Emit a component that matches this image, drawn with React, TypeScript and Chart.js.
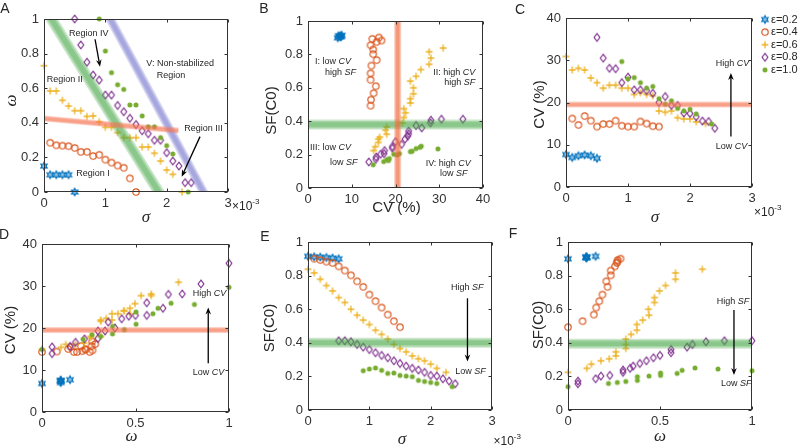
import React, { useEffect, useRef } from "react";
import { Chart, registerables } from "chart.js";

Chart.register(...registerables);

// ---------------- data (σ values in units of 10^-3) ----------------
const sigma02 = [0, 0.1, 0.2, 0.3, 0.4, 0.5];
const omega02 = [0.15, 0.1, 0.1, 0.1, 0.1, 0];
const cv02 = [7.7, 7.0, 7.4, 7.6, 7.4, 6.8];
const sf02 = [0.915, 0.912, 0.91, 0.908, 0.905, 0.9];

const sigma04 = [0.1, 0.2, 0.3, 0.4, 0.5, 0.6, 0.7, 0.8, 0.9, 1.0, 1.1, 1.2, 1.3, 1.4, 1.5];
const omega04 = [0.285, 0.27, 0.268, 0.265, 0.255, 0.232, 0.232, 0.208, 0.215, 0.187, 0.17, 0.153, 0.14, 0.079, 0];
const cv04 = [16.2, 14.7, 16.8, 15.7, 14.3, 14.9, 14.9, 15.7, 14.5, 14.3, 14.3, 15.5, 15.0, 14.4, 14.3];
const sf04 = [0.901, 0.893, 0.883, 0.875, 0.855, 0.83, 0.802, 0.766, 0.733, 0.687, 0.648, 0.61, 0.568, 0.529, 0.493];

const sigma06 = [0, 0.1, 0.2, 0.3, 0.4, 0.5, 0.6, 0.7, 0.8, 0.9, 1.0, 1.1, 1.2, 1.3, 1.4, 1.5, 1.6, 1.7, 1.8, 1.9, 2.0, 2.1, 2.25];
const omega06 = [0.73, 0.584, 0.584, 0.53, 0.497, 0.47, 0.47, 0.437, 0.44, 0.406, 0.374, 0.374, 0.343, 0.314, 0.314, 0.314, 0.26, 0.26, 0.224, 0.179, 0.127, 0.102, 0];
const cv06 = [30.9, 27.7, 28.1, 27.7, 25.8, 24.7, 23.4, 24.1, 24.1, 23.4, 23.4, 21.9, 22.3, 21.9, 21.6, 18.0, 17.7, 18.0, 16.4, 16.1, 16.1, 15.4, 15.0];
const sf06 = [0.838, 0.816, 0.778, 0.741, 0.709, 0.669, 0.64, 0.6, 0.564, 0.535, 0.509, 0.475, 0.45, 0.422, 0.39, 0.366, 0.346, 0.322, 0.305, 0.293, 0.273, 0.248, 0.224];

const sigma08 = [0.5, 0.6, 0.7, 0.8, 0.9, 1.0, 1.1, 1.2, 1.3, 1.4, 1.5, 1.6, 1.7, 1.8, 1.9, 2.0, 2.1, 2.2, 2.3, 2.4];
const omega08 = [1.0, 0.85, 0.75, 0.676, 0.647, 0.56, 0.56, 0.5, 0.464, 0.426, 0.39, 0.354, 0.337, 0.299, 0.299, 0.227, 0.179, 0.15, 0.054, 0.054];
const cv08 = [35.4, 30.5, 28.1, 28.0, 24.7, 26.0, 23.0, 23.0, 22.8, 22.2, 20.0, 21.4, 19.3, 19.3, 17.5, 17.4, 16.6, 15.6, 15.5, 13.9];
const sf08 = [0.412, 0.412, 0.406, 0.39, 0.374, 0.36, 0.341, 0.325, 0.311, 0.293, 0.277, 0.261, 0.248, 0.238, 0.224, 0.206, 0.202, 0.186, 0.172, 0.156];

const sigma10 = [0.9, 1.0, 1.1, 1.2, 1.3, 1.4, 1.5, 1.6, 1.7, 1.8, 1.9, 2.0, 2.1, 2.35];
const omega10 = [1.0, 0.815, 0.69, 0.62, 0.593, 0.503, 0.503, 0.44, 0.377, 0.377, 0.314, 0.268, 0.22, 0];
const cv10 = [29.7, 25.6, 25.9, 24.7, 23.4, 23.8, 20.9, 19.6, 20.4, 18.6, 18.0, 18.4, 17.3, 14.9];
const sf10 = [0.234, 0.244, 0.25, 0.236, 0.218, 0.22, 0.206, 0.202, 0.198, 0.176, 0.17, 0.164, 0.158, 0.139];

const seriesLabels = ["ε=0.2", "ε=0.4", "ε=0.6", "ε=0.8", "ε=1.0"];
const seriesColors = ["#0072BD", "#D95319", "#EDB120", "#7E2F8E", "#77AC30"];
const seriesMarkers = ["hexagram", "circle", "plus", "diamond", "dot"];

const seriesDefs = [
  { sigma: sigma02, omega: omega02, cv: cv02, sf: sf02 },
  { sigma: sigma04, omega: omega04, cv: cv04, sf: sf04 },
  { sigma: sigma06, omega: omega06, cv: cv06, sf: sf06 },
  { sigma: sigma08, omega: omega08, cv: cv08, sf: sf08 },
  { sigma: sigma10, omega: omega10, cv: cv10, sf: sf10 },
];

// ---------------- styling helpers ----------------
const SANS = '"Liberation Sans", Arial, Helvetica, sans-serif';
const SERIF = '"Liberation Serif", "DejaVu Serif", serif';
const INK = "#262626";
const TICK_INK = "#333";

type Key = "sigma" | "omega" | "cv" | "sf";
type Seg = [string, boolean];
type TextItem = { x: number; y: number; segs: Seg[]; align?: "left" | "center" | "right" };
type Band = { p1: [number, number]; p2: [number, number]; w: number; rgb: string; a?: number };
type Arrow = { from: [number, number]; to: [number, number] };
type PanelCfg = {
  box: [number, number, number, number];
  area: [number, number, number, number];
  xKey: Key;
  yKey: Key;
  xr: [number, number, number];
  yr: [number, number, number];
  xTitle: Seg;
  yTitle: Seg;
  xTitleOff: [number, number];
  yTitleOff: [number, number];
  exp?: [number, number];
  bands: Band[];
  texts: TextItem[];
  arrows: Arrow[];
  legend?: boolean;
};

function makeMarker(kind: string, color: string): HTMLCanvasElement {
  const s = 12;
  const c = document.createElement("canvas");
  c.width = s;
  c.height = s;
  const g = c.getContext("2d")!;
  const m = s / 2;
  g.strokeStyle = color;
  g.fillStyle = color;
  g.lineWidth = 1.15;
  g.beginPath();
  if (kind === "circle") {
    g.arc(m, m, 3.2, 0, Math.PI * 2);
    g.stroke();
  } else if (kind === "dot") {
    g.arc(m, m, 2.5, 0, Math.PI * 2);
    g.fill();
  } else if (kind === "plus") {
    g.lineWidth = 1.3;
    g.moveTo(m - 3.4, m);
    g.lineTo(m + 3.4, m);
    g.moveTo(m, m - 3.4);
    g.lineTo(m, m + 3.4);
    g.stroke();
  } else if (kind === "diamond") {
    g.moveTo(m, m - 3.9);
    g.lineTo(m + 2.9, m);
    g.lineTo(m, m + 3.9);
    g.lineTo(m - 2.9, m);
    g.closePath();
    g.stroke();
  } else {
    for (let i = 0; i < 12; i++) {
      const r = i % 2 === 0 ? 3.7 : 2.0;
      const a = -Math.PI / 2 + (i * Math.PI) / 6;
      const px = m + r * Math.cos(a);
      const py = m + r * Math.sin(a);
      if (i === 0) g.moveTo(px, py);
      else g.lineTo(px, py);
    }
    g.closePath();
    g.globalAlpha = 0.45;
    g.fill();
    g.globalAlpha = 1;
    g.stroke();
  }
  return c;
}

function fontFor(size: number, italic: boolean, serif = false) {
  return `${italic ? "italic " : ""}${size}px ${serif ? SERIF : SANS}`;
}

function rich(ctx: CanvasRenderingContext2D, segs: Seg[], x: number, y: number, size: number, align: string) {
  ctx.save();
  ctx.fillStyle = INK;
  ctx.textBaseline = "middle";
  ctx.textAlign = "left";
  const ws = segs.map(([t, it]) => {
    ctx.font = fontFor(size, it);
    return ctx.measureText(t).width;
  });
  const total = ws.reduce((a, b) => a + b, 0);
  let cx = align === "left" ? x : align === "center" ? x - total / 2 : x - total;
  segs.forEach(([t, it], i) => {
    ctx.font = fontFor(size, it);
    ctx.fillText(t, cx, y);
    cx += ws[i];
  });
  ctx.restore();
}

function drawTitle(ctx: CanvasRenderingContext2D, seg: Seg, x: number, y: number) {
  ctx.save();
  ctx.fillStyle = INK;
  ctx.textAlign = "center";
  ctx.textBaseline = "middle";
  ctx.font = seg[1] ? fontFor(17, true, true) : fontFor(15, false);
  ctx.fillText(seg[0], x, y);
  ctx.restore();
}

function drawArrow(ctx: CanvasRenderingContext2D, x1: number, y1: number, x2: number, y2: number) {
  const ang = Math.atan2(y2 - y1, x2 - x1);
  const hl = 7;
  const hw = 2.8;
  const c = Math.cos(ang);
  const s = Math.sin(ang);
  ctx.save();
  ctx.strokeStyle = "#000";
  ctx.fillStyle = "#000";
  ctx.lineWidth = 1.3;
  ctx.beginPath();
  ctx.moveTo(x1, y1);
  ctx.lineTo(x2 - hl * 0.7 * c, y2 - hl * 0.7 * s);
  ctx.stroke();
  ctx.beginPath();
  ctx.moveTo(x2, y2);
  ctx.lineTo(x2 - hl * c + hw * s, y2 - hl * s - hw * c);
  ctx.lineTo(x2 - hl * 0.7 * c, y2 - hl * 0.7 * s);
  ctx.lineTo(x2 - hl * c - hw * s, y2 - hl * s + hw * c);
  ctx.closePath();
  ctx.fill();
  ctx.restore();
}

function makeAnnot(cfg: PanelCfg, markers: HTMLCanvasElement[]) {
  return {
    id: "annot",
    afterDatasetsDraw(chart: any) {
      const ctx: CanvasRenderingContext2D = chart.ctx;
      const xs = chart.scales.x;
      const ys = chart.scales.y;
      const ca = chart.chartArea;
      const X = (v: number) => xs.getPixelForValue(v);
      const Y = (v: number) => ys.getPixelForValue(v);

      // soft bands
      ctx.save();
      ctx.beginPath();
      ctx.rect(ca.left, ca.top, ca.right - ca.left, ca.bottom - ca.top);
      ctx.clip();
      for (const b of cfg.bands) {
        const x1 = X(b.p1[0]);
        const y1 = Y(b.p1[1]);
        const x2 = X(b.p2[0]);
        const y2 = Y(b.p2[1]);
        for (const f of [1, 0.72, 0.45]) {
          ctx.strokeStyle = `rgba(${b.rgb},${b.a ?? 0.28})`;
          ctx.lineWidth = b.w * f;
          ctx.lineCap = "butt";
          ctx.beginPath();
          ctx.moveTo(x1, y1);
          ctx.lineTo(x2, y2);
          ctx.stroke();
        }
      }
      ctx.restore();

      // box with inward ticks
      ctx.save();
      ctx.strokeStyle = "#333";
      ctx.lineWidth = 1;
      const l = Math.round(ca.left) + 0.5;
      const r = Math.round(ca.right) - 0.5;
      const t = Math.round(ca.top) + 0.5;
      const bt = Math.round(ca.bottom) - 0.5;
      ctx.strokeRect(l, t, r - l, bt - t);
      ctx.beginPath();
      for (const tk of xs.ticks) {
        const x = Math.round(X(tk.value)) + 0.5;
        ctx.moveTo(x, bt);
        ctx.lineTo(x, bt - 3);
        ctx.moveTo(x, t);
        ctx.lineTo(x, t + 3);
      }
      for (const tk of ys.ticks) {
        const y = Math.round(Y(tk.value)) + 0.5;
        ctx.moveTo(l, y);
        ctx.lineTo(l + 3, y);
        ctx.moveTo(r, y);
        ctx.lineTo(r - 3, y);
      }
      ctx.stroke();
      ctx.restore();

      // annotation texts and arrows
      for (const tx of cfg.texts) rich(ctx, tx.segs, X(tx.x), Y(tx.y), 9, tx.align ?? "left");
      for (const a of cfg.arrows) drawArrow(ctx, X(a.from[0]), Y(a.from[1]), X(a.to[0]), Y(a.to[1]));

      // axis titles
      drawTitle(ctx, cfg.xTitle, (ca.left + ca.right) / 2 + cfg.xTitleOff[0], ca.bottom + cfg.xTitleOff[1]);
      ctx.save();
      ctx.translate(ca.left + cfg.yTitleOff[0], (ca.top + ca.bottom) / 2 + cfg.yTitleOff[1]);
      ctx.rotate(-Math.PI / 2);
      drawTitle(ctx, cfg.yTitle, 0, 0);
      ctx.restore();

      // ×10^-3 exponent label
      if (cfg.exp) {
        ctx.save();
        ctx.fillStyle = INK;
        ctx.textBaseline = "middle";
        ctx.textAlign = "left";
        ctx.font = fontFor(12, false);
        const ex = ca.right + cfg.exp[0];
        const ey = ca.bottom + cfg.exp[1];
        ctx.fillText("×10", ex, ey);
        const w = ctx.measureText("×10").width;
        ctx.font = fontFor(8, false);
        ctx.fillText("-3", ex + w, ey - 5);
        ctx.restore();
      }

      // legend
      if (cfg.legend) {
        const bx = cfg.box[0];
        const by = cfg.box[1];
        ctx.save();
        ctx.fillStyle = INK;
        ctx.textBaseline = "middle";
        ctx.textAlign = "left";
        ctx.font = fontFor(11, false);
        seriesLabels.forEach((lab, i) => {
          const cy = 19.5 + i * 12.6 - by;
          const mk = markers[i];
          ctx.drawImage(mk, 765 - bx - mk.width / 2, cy - mk.height / 2);
          ctx.fillText(lab, 771 - bx, cy);
        });
        ctx.restore();
      }
    },
  };
}

function fmt(v: number) {
  return String(Math.round(v * 100) / 100);
}

function Panel({ cfg }: { cfg: PanelCfg }) {
  const ref = useRef<HTMLCanvasElement>(null);
  const [bx, by, bw, bh] = cfg.box;
  useEffect(() => {
    const canvas = ref.current!;
    const [ax, ay, aw, ah] = cfg.area;
    const padL = ax - bx;
    const padT = ay - by;
    const padR = bx + bw - (ax + aw);
    const padB = by + bh - (ay + ah);
    const markers = seriesColors.map((c, i) => makeMarker(seriesMarkers[i], c));
    const datasets = seriesDefs.map((s, i) => ({
      label: seriesLabels[i],
      data: (s as any)[cfg.xKey].map((v: number, j: number) => ({ x: v, y: (s as any)[cfg.yKey][j] })),
      pointStyle: markers[i],
      pointRadius: 3,
      pointHoverRadius: 3,
      showLine: false,
      clip: false,
      order: seriesDefs.length - i,
    }));
    const tickFont = { family: SANS, size: 13 };
    const chart = new Chart(canvas, {
      type: "scatter",
      data: { datasets: datasets as any },
      options: {
        responsive: false,
        animation: false,
        devicePixelRatio: 1,
        events: [],
        layout: { padding: { left: 0, top: padT, right: padR, bottom: 0 } },
        plugins: { legend: { display: false }, tooltip: { enabled: false } },
        scales: {
          x: {
            type: "linear",
            min: cfg.xr[0],
            max: cfg.xr[1],
            ticks: { stepSize: cfg.xr[2], autoSkip: false, maxRotation: 0, padding: 4, font: tickFont, color: TICK_INK, callback: (v: any) => fmt(Number(v)) },
            grid: { display: false, drawTicks: false },
            border: { display: false },
            afterFit: (s: any) => {
              s.height = padB;
            },
          },
          y: {
            type: "linear",
            min: cfg.yr[0],
            max: cfg.yr[1],
            ticks: { stepSize: cfg.yr[2], autoSkip: false, padding: 5, font: tickFont, color: TICK_INK, callback: (v: any) => fmt(Number(v)) },
            grid: { display: false, drawTicks: false },
            border: { display: false },
            afterFit: (s: any) => {
              s.width = padL;
            },
          },
        },
      } as any,
      plugins: [makeAnnot(cfg, markers) as any],
    });
    return () => chart.destroy();
  }, [cfg]);
  return (
    <canvas
      ref={ref}
      width={bw}
      height={bh}
      style={{ position: "absolute", left: bx, top: by, width: bw, height: bh }}
    />
  );
}

// ---------------- panel definitions ----------------
const GREEN = "70,165,70";
const BLUE = "115,115,205";
const ORANGE = "245,115,80";

const panels: PanelCfg[] = [
  {
    box: [0, 0, 260, 225],
    area: [44, 19, 184, 173],
    xKey: "sigma",
    yKey: "omega",
    xr: [0, 3, 1],
    yr: [0, 1, 0.2],
    xTitle: ["σ", true],
    yTitle: ["ω", true],
    xTitleOff: [10, 26],
    yTitleOff: [-32, -5],
    exp: [4, 15],
    bands: [
      { p1: [-0.055, 1.1], p2: [2.045, -0.1], w: 11, rgb: GREEN },
      { p1: [0.928, 1.1], p2: [2.752, -0.1], w: 9, rgb: BLUE },
      { p1: [-0.2, 0.431], p2: [2.19, 0.355], w: 6, rgb: ORANGE, a: 0.32 },
    ],
    texts: [
      { x: 0.73, y: 0.917, segs: [["Region IV", false]], align: "center" },
      { x: 2.22, y: 0.744, segs: [["V: Non-stabilized", false]], align: "center" },
      { x: 2.07, y: 0.675, segs: [["Region", false]], align: "center" },
      { x: 0.338, y: 0.649, segs: [["Region II", false]], align: "center" },
      { x: 2.6, y: 0.368, segs: [["Region III", false]], align: "center" },
      { x: 0.8, y: 0.104, segs: [["Region I", false]], align: "center" },
    ],
    arrows: [
      { from: [0.832, 0.883], to: [0.913, 0.724] },
      { from: [2.544, 0.32], to: [2.245, 0.088] },
    ],
  },
  {
    box: [262, 0, 268, 225],
    area: [308, 21, 175, 167],
    xKey: "cv",
    yKey: "sf",
    xr: [0, 40, 10],
    yr: [0, 1, 0.2],
    xTitle: ["CV (%)", false],
    yTitle: ["SF(C0)", false],
    xTitleOff: [1, 20],
    yTitleOff: [-36, 6],
    bands: [
      { p1: [0, 0.38], p2: [40, 0.38], w: 10, rgb: GREEN },
      { p1: [20.5, 0], p2: [20.5, 1], w: 7, rgb: "240,105,60", a: 0.33 },
    ],
    texts: [
      { x: 1.6, y: 0.756, segs: [["I: low ", false], ["CV", true]] },
      { x: 3.89, y: 0.693, segs: [["high ", false], ["SF", true]] },
      { x: 28.64, y: 0.693, segs: [["II: high ", false], ["CV", true]] },
      { x: 31.15, y: 0.629, segs: [["high ", false], ["SF", true]] },
      { x: 0.46, y: 0.245, segs: [["III: low ", false], ["CV", true]] },
      { x: 5.03, y: 0.151, segs: [["low ", false], ["SF", true]] },
      { x: 26.9, y: 0.148, segs: [["IV: high ", false], ["CV", true]] },
      { x: 30.17, y: 0.084, segs: [["low ", false], ["SF", true]] },
    ],
    arrows: [],
  },
  {
    box: [532, 0, 268, 225],
    area: [566, 18, 186, 169],
    xKey: "sigma",
    yKey: "cv",
    xr: [0, 3, 1],
    yr: [0, 40, 10],
    xTitle: ["σ", true],
    yTitle: ["CV (%)", false],
    xTitleOff: [-4, 31],
    yTitleOff: [-26, 2],
    exp: [2, 26],
    bands: [{ p1: [0, 19.5], p2: [3, 19.5], w: 6, rgb: ORANGE, a: 0.32 }],
    texts: [
      { x: 2.415, y: 29.2, segs: [["High ", false], ["CV", true]] },
      { x: 2.415, y: 9.57, segs: [["Low ", false], ["CV", true]] },
    ],
    arrows: [{ from: [2.66, 11.95], to: [2.66, 27.0] }],
    legend: true,
  },
  {
    box: [0, 225, 260, 223],
    area: [42, 244, 187, 168],
    xKey: "omega",
    yKey: "cv",
    xr: [0, 1, 0.5],
    yr: [0, 40, 10],
    xTitle: ["ω", true],
    yTitle: ["CV (%)", false],
    xTitleOff: [-4, 25],
    yTitleOff: [-31, 2],
    bands: [{ p1: [0, 19.5], p2: [1, 19.5], w: 6, rgb: ORANGE, a: 0.32 }],
    texts: [
      { x: 0.806, y: 28.1, segs: [["High ", false], ["CV", true]] },
      { x: 0.806, y: 9.37, segs: [["Low ", false], ["CV", true]] },
    ],
    arrows: [{ from: [0.889, 11.6], to: [0.889, 24.9] }],
  },
  {
    box: [262, 225, 268, 223],
    area: [308, 242, 184, 168],
    xKey: "sigma",
    yKey: "sf",
    xr: [0, 3, 1],
    yr: [0, 1, 0.2],
    xTitle: ["σ", true],
    yTitle: ["SF(C0)", false],
    xTitleOff: [2, 30],
    yTitleOff: [-38, 2],
    exp: [1.5, 32],
    bands: [{ p1: [0, 0.4], p2: [3, 0.4], w: 10, rgb: GREEN }],
    texts: [
      { x: 2.33, y: 0.732, segs: [["High ", false], ["SF", true]] },
      { x: 2.4, y: 0.232, segs: [["Low ", false], ["SF", true]] },
    ],
    arrows: [{ from: [2.6, 0.665], to: [2.6, 0.288] }],
  },
  {
    box: [532, 225, 268, 223],
    area: [568, 242, 184, 168],
    xKey: "omega",
    yKey: "sf",
    xr: [0, 1, 0.5],
    yr: [0, 1, 0.2],
    xTitle: ["ω", true],
    yTitle: ["SF(C0)", false],
    xTitleOff: [0, 27],
    yTitleOff: [-29, -1],
    bands: [{ p1: [0, 0.395], p2: [1, 0.395], w: 10, rgb: GREEN }],
    texts: [
      { x: 0.808, y: 0.643, segs: [["High ", false], ["SF", true]] },
      { x: 0.832, y: 0.155, segs: [["Low ", false], ["SF", true]] },
    ],
    arrows: [{ from: [0.902, 0.595], to: [0.902, 0.208] }],
  },
];

const panelLetters: [string, number, number][] = [
  ["A", 5, 8],
  ["B", 264, 8],
  ["C", 520, 9],
  ["D", 4, 234],
  ["E", 265, 236],
  ["F", 513, 233],
];

export default function App() {
  return (
    <div
      style={{
        position: "fixed",
        left: 0,
        top: 0,
        width: 800,
        height: 448,
        background: "#fff",
        overflow: "hidden",
      }}
    >
      {panels.map((p, i) => (
        <Panel key={i} cfg={p} />
      ))}
      {panelLetters.map(([t, x, y]) => (
        <div
          key={t}
          style={{
            position: "absolute",
            left: x,
            top: y,
            transform: "translate(-50%, -50%)",
            font: `14px ${SANS}`,
            lineHeight: "14px",
            color: INK,
          }}
        >
          {t}
        </div>
      ))}
    </div>
  );
}
